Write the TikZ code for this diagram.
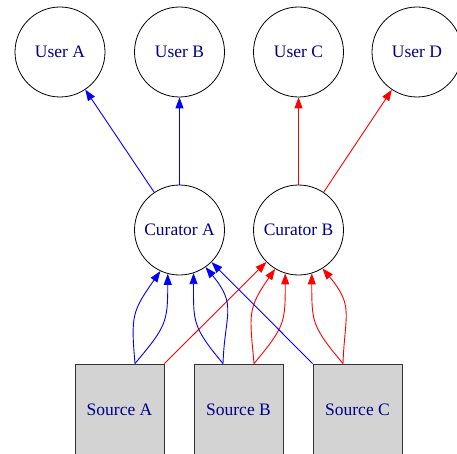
\documentclass[tikz,border=0pt]{standalone}
\usepackage{fontspec}
\setmainfont{Liberation Serif}
\usetikzlibrary{arrows.meta}

\definecolor{labelblue}{RGB}{0,0,139}
\definecolor{boxgray}{RGB}{211,211,211}

\tikzset{
    person/.style={circle, draw, line width=0.8pt, minimum size=90pt, inner sep=0pt, text=labelblue},
    source/.style={rectangle, draw=black!80, line width=0.9pt, fill=boxgray, minimum width=89pt, minimum height=92pt, text=labelblue},
    feed/.style={-{Triangle[length=11pt, width=8pt]}, line width=0.9pt},
}

\begin{document}
\begin{tikzpicture}[x=1pt, y=1pt, font=\fontsize{17.5}{20}\selectfont]
    \useasboundingbox (0,0) rectangle (457,453);

    \node[person] (userA) at (60,401) {User A};
    \node[person] (userB) at (179.5,401) {User B};
    \node[person] (userC) at (298.5,401) {User C};
    \node[person] (userD) at (417,401) {User D};

    \node[person] (curA) at (179.5,223) {Curator A};
    \node[person] (curB) at (298.5,223) {Curator B};

    \node[source] (srcA) at (119.5,43) {Source A};
    \node[source] (srcB) at (238.5,43) {Source B};
    \node[source] (srcC) at (357.5,43) {Source C};

    % curators pass on to the users
    \draw[feed, blue] (curA) -- (userA);
    \draw[feed, blue] (curA) -- (userB);
    \draw[feed, red] (curB) -- (userC);
    \draw[feed, red] (curB) -- (userD);

    % sources feed the curators
    \draw[feed, blue, looseness=1.3] ([xshift=15.5pt]srcA.north) to[out=95, in=-125] (curA.-115);
    \draw[feed, blue, looseness=1.3] ([xshift=15.5pt]srcA.north) to[out=50, in=-90] (curA.-105);
    \draw[feed, red] (srcA.north east) -- (curB);

    \draw[feed, blue, looseness=1.3] ([xshift=-15.5pt]srcB.north) to[out=130, in=-90] (curA.-72);
    \draw[feed, blue, looseness=1.3] ([xshift=-15.5pt]srcB.north) to[out=88, in=-50] (curA.-55);
    \draw[feed, red, looseness=1.3] ([xshift=15.5pt]srcB.north) to[out=95, in=-125] (curB.-121);
    \draw[feed, red, looseness=1.3] ([xshift=15.5pt]srcB.north) to[out=50, in=-90] (curB.-107);

    \draw[feed, blue] (srcC.north west) -- (curA);
    \draw[feed, red, looseness=1.3] ([xshift=-14.5pt]srcC.north) to[out=130, in=-90] (curB.-73);
    \draw[feed, red, looseness=1.3] ([xshift=-14.5pt]srcC.north) to[out=88, in=-50] (curB.-58);

\end{tikzpicture}
\end{document}
